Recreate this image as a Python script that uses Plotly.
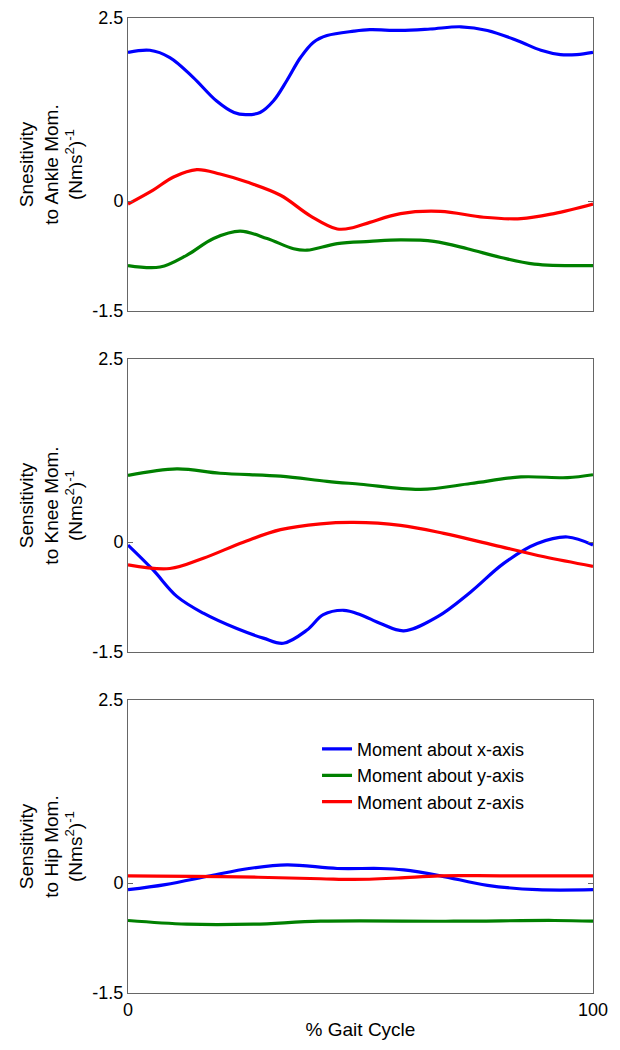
import plotly.graph_objects as go

# ---------------- data ----------------
# Ankle panel
ankle_x_pct = [0, 4.7, 9, 14, 19, 22.8, 25.3, 28.4, 31.3, 34.2, 37.1, 39.9, 42.8, 48.6, 52, 58.6, 65, 71.6, 77.3, 83.8, 88.8, 93, 96.5, 100]
ankle_x_val = [2.03, 2.06, 1.96, 1.69, 1.37, 1.21, 1.18, 1.21, 1.37, 1.65, 1.96, 2.17, 2.26, 2.32, 2.34, 2.33, 2.35, 2.38, 2.33, 2.19, 2.06, 2.0, 2.0, 2.03]
ankle_y_pct = [0, 6.9, 12.6, 18.4, 24.1, 29.9, 35.6, 38.5, 45, 52, 58.6, 65.8, 73, 80.2, 87.4, 100]
ankle_y_val = [-0.88, -0.90, -0.74, -0.51, -0.41, -0.51, -0.65, -0.67, -0.58, -0.55, -0.53, -0.55, -0.65, -0.77, -0.86, -0.88]
ankle_z_pct = [0, 5.4, 9.8, 14.8, 19.8, 25.6, 32.8, 39.2, 45, 48.5, 52, 58.6, 67.2, 76.5, 84.5, 91.6, 100]
ankle_z_val = [-0.04, 0.15, 0.33, 0.43, 0.37, 0.26, 0.08, -0.20, -0.38, -0.36, -0.29, -0.17, -0.14, -0.22, -0.24, -0.17, -0.04]

# Knee panel
knee_x_pct = [0, 5.4, 10.5, 16.2, 23.4, 29.1, 33.4, 38.5, 42, 46.4, 50, 54.3, 59.3, 66.5, 73.7, 80.8, 88, 94.5, 100]
knee_x_val = [-0.04, -0.38, -0.74, -0.97, -1.18, -1.31, -1.38, -1.20, -0.99, -0.93, -0.99, -1.11, -1.21, -1.02, -0.68, -0.29, -0.02, 0.07, -0.04]
knee_y_pct = [0, 10.5, 19.8, 32.8, 42.8, 50, 62.9, 73.7, 84.5, 94.5, 100]
knee_y_val = [0.91, 1.00, 0.94, 0.90, 0.83, 0.79, 0.72, 0.80, 0.89, 0.88, 0.92]
knee_z_pct = [0, 9, 16.2, 24.8, 32.8, 41.4, 48.5, 58.6, 67.9, 78.7, 89.5, 100]
knee_z_val = [-0.31, -0.36, -0.22, 0.0, 0.17, 0.25, 0.27, 0.23, 0.12, -0.04, -0.20, -0.33]

# Hip panel
hip_x_pct = [0, 8, 17.7, 26, 34.2, 45, 54.3, 59.3, 67.2, 77.3, 88, 100]
hip_x_val = [-0.09, -0.02, 0.10, 0.20, 0.25, 0.20, 0.20, 0.18, 0.10, -0.03, -0.09, -0.09]
hip_y_pct = [0, 12.6, 27, 41.4, 70, 91.7, 100]
hip_y_val = [-0.51, -0.56, -0.56, -0.52, -0.52, -0.51, -0.52]
hip_z_pct = [0, 20, 41.4, 48.5, 58, 67, 80, 100]
hip_z_val = [0.10, 0.09, 0.06, 0.05, 0.07, 0.10, 0.10, 0.10]

series_names = ["Moment about x-axis", "Moment about y-axis", "Moment about z-axis"]
y_titles = [
    "Snesitivity<br>to Ankle Mom.<br>(Nms<sup>2</sup>)<sup>-1</sup>",
    "Sensitivity<br>to Knee Mom.<br>(Nms<sup>2</sup>)<sup>-1</sup>",
    "Sensitivity<br>to Hip Mom.<br>(Nms<sup>2</sup>)<sup>-1</sup>",
]
y_tick_vals = [-1.5, 0, 2.5]
y_tick_text = ["-1.5", "0", "2.5"]
x_tick_vals = [0, 100]
x_tick_text = ["0", "100"]
x_title = "% Gait Cycle"

# ---------------- styles ----------------
colors = ["#0000FF", "#008000", "#FF0000"]
FONT = "Arial, Liberation Sans, sans-serif"
AXC = "#666666"

panels = [
    [(ankle_x_pct, ankle_x_val), (ankle_y_pct, ankle_y_val), (ankle_z_pct, ankle_z_val)],
    [(knee_x_pct, knee_x_val), (knee_y_pct, knee_y_val), (knee_z_pct, knee_z_val)],
    [(hip_x_pct, hip_x_val), (hip_y_pct, hip_y_val), (hip_z_pct, hip_z_val)],
]

fig = go.Figure()
for p, panel in enumerate(panels):
    suffix = "" if p == 0 else str(p + 1)
    for s, (xs, ys) in enumerate(panel):
        fig.add_trace(go.Scatter(
            x=xs, y=ys, mode="lines",
            line=dict(color=colors[s], width=3.2, shape="spline", smoothing=1.0),
            name=series_names[s],
            showlegend=(p == 2),
            xaxis="x" + suffix, yaxis="y" + suffix,
        ))

domains = [[0.6995, 1.0], [0.3497, 0.6503], [0.0, 0.3005]]
layout = dict(
    width=620, height=1050,
    margin=dict(l=120, r=35, t=10, b=65, autoexpand=False),
    paper_bgcolor="white", plot_bgcolor="white",
    font=dict(family=FONT, size=16, color="black"),
    legend=dict(
        x=0.4065, y=0.269, xanchor="left", yanchor="top",
        bgcolor="rgba(255,255,255,0)", borderwidth=0,
        font=dict(family=FONT, size=18, color="black"),
        tracegroupgap=0,
    ),
)
for p in range(3):
    suffix = "" if p == 0 else str(p + 1)
    xa = dict(
        domain=[0, 1], anchor="y" + suffix, range=[0, 100],
        tickvals=x_tick_vals, ticktext=x_tick_text,
        showticklabels=(p == 2), ticks="inside", ticklen=5,
        tickcolor=AXC, showline=True, linecolor=AXC, linewidth=1,
        mirror="ticks", showgrid=False, zeroline=False, automargin=False,
        tickfont=dict(family=FONT, size=18, color="black"),
    )
    if p == 2:
        xa["title"] = dict(text=x_title, standoff=4,
                           font=dict(family=FONT, size=19, color="black"))
    ya = dict(
        domain=domains[p], anchor="x" + suffix, range=[-1.5, 2.5],
        tickvals=y_tick_vals, ticktext=y_tick_text,
        ticks="inside", ticklen=5, tickcolor=AXC,
        showline=True, linecolor=AXC, linewidth=1, mirror="ticks",
        showgrid=False, zeroline=False, automargin=False,
        tickfont=dict(family=FONT, size=18, color="black"),
        title=dict(text=y_titles[p], standoff=4,
                   font=dict(family=FONT, size=19, color="black")),
    )
    layout["xaxis" + suffix] = xa
    layout["yaxis" + suffix] = ya

fig.update_layout(**layout)
fig.write_html("out.html")
